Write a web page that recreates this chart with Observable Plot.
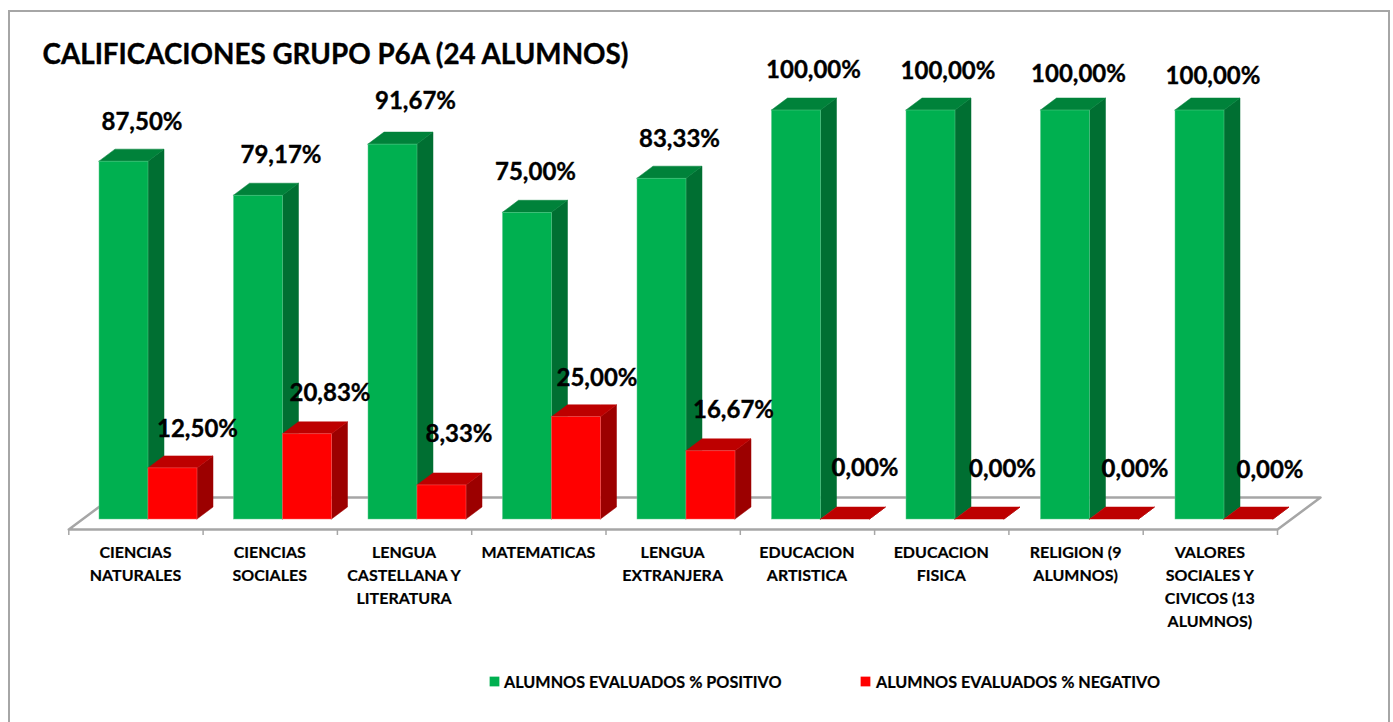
<!DOCTYPE html>
<html>
<head>
<meta charset="utf-8">
<script src="https://cdn.jsdelivr.net/npm/d3@7"></script>
<script src="https://cdn.jsdelivr.net/npm/@observablehq/plot@0.6"></script>
<style>
html,body{margin:0;padding:0;background:#fff;}
#wrap{position:relative;width:1393px;height:722px;overflow:hidden;}
#frame{position:absolute;left:8px;top:10px;width:1378px;height:730px;border:2px solid #a6a6a6;box-sizing:content-box;}
#wrap svg{position:absolute;left:0;top:0;background:transparent;}
</style>
</head>
<body>
<div id="wrap"><div id="frame"></div></div>
<script>
const title = "CALIFICACIONES GRUPO P6A (24 ALUMNOS)";
const categories = ["CIENCIAS\nNATURALES","CIENCIAS\nSOCIALES","LENGUA\nCASTELLANA Y\nLITERATURA","MATEMATICAS","LENGUA\nEXTRANJERA","EDUCACION\nARTISTICA","EDUCACION\nFISICA","RELIGION (9\nALUMNOS)","VALORES\nSOCIALES Y\nCIVICOS (13\nALUMNOS)"];
const positivo = [87.5,79.17,91.67,75,83.33,100,100,100,100];
const negativo = [12.5,20.83,8.33,25,16.67,0,0,0,0];
const seriesNames = ["ALUMNOS EVALUADOS % POSITIVO","ALUMNOS EVALUADOS % NEGATIVO"];
// Manually placed data label nudges (px, relative to the bar's top centre)
const posNudge = [[18,-39],[22.5,-40],[22.5,-43],[8,-40],[17.5,-39],[17,-40],[17,-39],[13,-36],[13,-34]];
const negNudge = [[24.5,-39],[22.5,-41],[17,-51],[20.5,-39],[22.5,-41],[19.5,-51],[22.5,-50],[20.5,-50],[21,-49]];

const fmt = v => v.toFixed(2).replace(".", ",") + "%";
const W = 1393, H = 722;
const mL = 68.3, mR = W - 1277, mT = 110, mB = H - 519;
const pxX = (W - mL - mR) / 9, pxY = (H - mT - mB) / 100;
const DX = 16 / pxX, DY = 12 / pxY;
const BAR = 49 / pxX, PAD = 30.7 / pxX, STEP = 134.5 / pxX;

const bars = (vals, off) => vals.map((v, i) => ({i, v, x1: i * STEP + PAD + off * BAR, x2: i * STEP + PAD + (off + 1) * BAR}));
const gBars = bars(positivo, 0), rBars = bars(negativo, 1);

const side = b => [
  {k: b.i, x: b.x2, y1: 0, y2: b.v},
  {k: b.i, x: b.x2 + DX, y1: DY, y2: b.v + DY}
];
const top3d = b => [
  {k: b.i, x: b.x1, y1: b.v, y2: b.v},
  {k: b.i, x: b.x1 + DX, y1: b.v, y2: b.v + DY},
  {k: b.i, x: b.x2, y1: b.v, y2: b.v + DY},
  {k: b.i, x: b.x2 + DX, y1: b.v + DY, y2: b.v + DY}
];
const areaOpts = fill => ({x: "x", y1: "y1", y2: "y2", z: "k", fill, stroke: fill, strokeWidth: 0.5});

const floorF = -10 / pxY, floorB = 22 / pxY, fdx = 43 / pxX;
const floor = [{x:0,y:floorF},{x:9,y:floorF},{x:9+fdx,y:floorB},{x:fdx,y:floorB},{x:0,y:floorF}];

const ink = {fontWeight: 700, fill: "#000", stroke: "#000", strokeWidth: 0.35};
const labelMarks = [];
gBars.forEach((b,i) => labelMarks.push(Plot.text([b], {x: d => (d.x1+d.x2)/2, y: "v", text: d => fmt(d.v), dx: posNudge[i][0], dy: posNudge[i][1], fontSize: 24, ...ink})));
rBars.forEach((b,i) => labelMarks.push(Plot.text([b], {x: d => (d.x1+d.x2)/2, y: "v", text: d => fmt(d.v), dx: negNudge[i][0], dy: negNudge[i][1], fontSize: 24, ...ink})));

const chart = Plot.plot({
  width: W, height: H,
  marginLeft: mL, marginRight: mR, marginTop: mT, marginBottom: mB,
  style: {fontFamily: "Lato", background: "transparent", overflow: "visible"},
  x: {domain: [0, 9], axis: null},
  y: {domain: [0, 100], axis: null},
  marks: [
    Plot.line(floor, {x: "x", y: "y", stroke: "#a6a6a6", strokeWidth: 2.5}),
    Plot.ruleX(d3.range(10), {y1: floorF, y2: floorF - 6 / pxY, stroke: "#a6a6a6", strokeWidth: 1.5}),
    Plot.areaY(gBars.flatMap(side), areaOpts("#006f32")),
    Plot.areaY(gBars.flatMap(top3d), areaOpts("#00823a")),
    Plot.rect(gBars, {x1: "x1", x2: "x2", y1: 0, y2: "v", fill: "#00b050", stroke: "#5cc98d", strokeWidth: 0.5}),
    Plot.areaY(rBars.flatMap(side), areaOpts("#9c0000")),
    Plot.areaY(rBars.flatMap(top3d), areaOpts("#bd0000")),
    Plot.rect(rBars.filter(b => b.v > 0), {x1: "x1", x2: "x2", y1: 0, y2: "v", fill: "#ff0000", stroke: "#ff6060", strokeWidth: 0.5}),
    ...labelMarks,
    Plot.text(categories, {x: (d,i) => i + 0.5, y: floorF, text: d => d, dx: -0.5, dy: 12, lineAnchor: "top", lineHeight: 1.44, fontSize: 16, ...ink, strokeWidth: 0.2}),
    Plot.text([title], {frameAnchor: "top-left", dx: 42 - mL, dy: 55 - mT, textAnchor: "start", lineAnchor: "middle", text: d => d, fontSize: 27.8, ...ink}),
    Plot.dot([seriesNames[0]], {frameAnchor: "top-left", dx: 494 - mL, dy: 681 - mT, symbol: "square", r: 5.5, fill: "#00b050"}),
    Plot.text([seriesNames[0]], {frameAnchor: "top-left", dx: 503.5 - mL, dy: 682 - mT, textAnchor: "start", lineAnchor: "middle", text: d => d, fontSize: 16.2, ...ink, strokeWidth: 0.2}),
    Plot.dot([seriesNames[1]], {frameAnchor: "top-left", dx: 865 - mL, dy: 681 - mT, symbol: "square", r: 5.5, fill: "#ff0000"}),
    Plot.text([seriesNames[1]], {frameAnchor: "top-left", dx: 875.5 - mL, dy: 682 - mT, textAnchor: "start", lineAnchor: "middle", text: d => d, fontSize: 16.2, ...ink, strokeWidth: 0.2})
  ]
});
document.getElementById("wrap").appendChild(chart);
</script>
</body>
</html>
